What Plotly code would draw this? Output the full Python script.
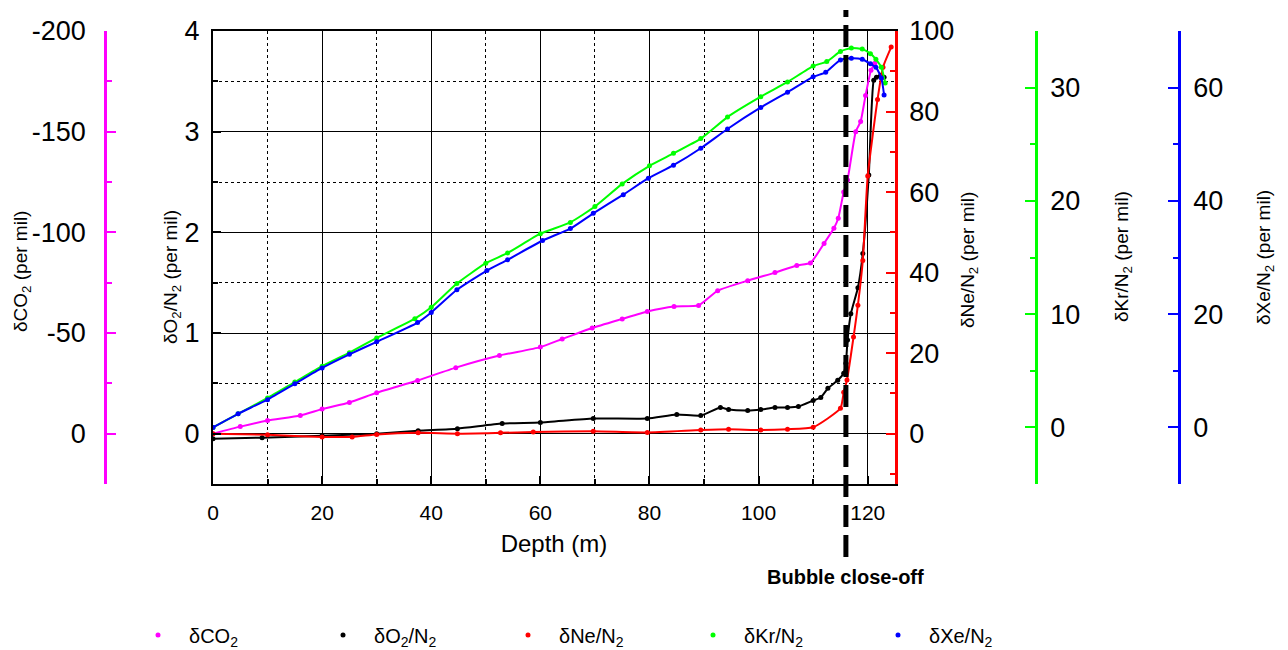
import plotly.graph_objects as go

W, H = 1288, 650

# ---------------- data ----------------
co2_depth = [0, 5, 10, 16, 20, 25, 30, 37.5, 44.5, 52.5, 60, 64, 69.5, 75, 79.6, 84.5,
             89, 92.5, 98, 103, 107, 109.5, 112, 113.8, 114.6, 115.6, 116.3, 117.8,
             118.7, 119.6, 120.6, 121.3]
co2_vals = [0, -3.5, -6.5, -9, -12.2, -15.5, -20.3, -26.4, -32.8, -38.8, -43, -47, -52.5,
            -57, -60.7, -63.2, -63.7, -71, -76, -80, -83.5, -84.8, -94.5, -102, -107, -120,
            -126, -150, -155, -168, -180.5, -184]

o2_depth = [0, 9, 20, 30, 37.6, 44.8, 53, 60, 69.7, 79.6, 85, 89.4, 93, 94.5, 98, 100.4,
            103, 105.3, 107.3, 110, 111.4, 112.7, 114.5, 115.6, 116, 116.3, 116.9, 118.2,
            119.1, 120.2, 121.1, 121.6, 122.4, 123]
o2_vals = [-0.05, -0.04, -0.02, 0.0, 0.03, 0.05, 0.1, 0.11, 0.15, 0.15, 0.19, 0.18, 0.26,
           0.24, 0.23, 0.24, 0.26, 0.26, 0.27, 0.33, 0.36, 0.45, 0.53, 0.6, 0.7, 0.93, 1.19,
           1.45, 1.79, 2.57, 3.51, 3.54, 3.56, 3.54]

ne_depth = [0, 10, 20, 25.5, 30, 37.6, 44.8, 52.7, 58.7, 69.7, 79.6, 89.4, 94.5, 100.4,
            105.3, 110, 115, 115.6, 116.2, 117.4, 118.2, 119.1, 120, 121.8, 122.8, 124.3]
ne_vals = [0, -0.3, -0.8, -0.8, -0.2, 0.2, 0, 0.2, 0.4, 0.6, 0.3, 0.9, 1.1, 0.9, 1.1, 1.6,
           6.3, 10.3, 13.3, 24, 31.9, 43, 64, 83, 91, 96]

kr_depth = [0, 4.6, 10, 15, 20, 25, 30, 37, 40, 44.7, 50, 54, 60, 65.5, 70, 75, 80, 84.4,
            89.4, 94.3, 100.4, 105.3, 110, 112.5, 115, 117, 119, 120.5, 121.5, 122.5, 123.2]
kr_vals = [0, 1.2, 2.6, 4.0, 5.4, 6.6, 7.9, 9.6, 10.6, 12.7, 14.5, 15.4, 17.1, 18.1, 19.5,
           21.5, 23.1, 24.2, 25.5, 27.4, 29.2, 30.5, 31.9, 32.3, 33.2, 33.5, 33.4, 33.0,
           32.5, 31.8, 30.4]

xe_depth = [0, 4.6, 10, 15, 20, 25, 30, 37.5, 40, 44.7, 50.2, 54, 60.4, 65.5, 69.7, 75.2,
            79.8, 84.4, 89.4, 94.3, 100.4, 105.3, 110, 112.3, 115, 117, 119, 120.5, 121.5,
            122.5, 123]
xe_vals = [0, 2.4, 4.9, 7.7, 10.5, 12.9, 15.1, 18.5, 20.3, 24.3, 27.7, 29.6, 33.0, 35.1,
           37.8, 41.1, 44.0, 46.3, 49.3, 52.7, 56.5, 59.2, 61.9, 62.7, 64.9, 65.2, 65.0,
           64.2, 63.6, 61.7, 58.7]

# CO2 axis tick labels use a plain hyphen as in the reference
co2_tick_vals = [0, -50, -100, -150, -200]
co2_tick_text = ["0", "-50", "-100", "-150", "-200"]

bubble_close_off_depth = 116
bubble_label = "Bubble close-off"

names = ["δCO<sub>2</sub>", "δO<sub>2</sub>/N<sub>2</sub>", "δNe/N<sub>2</sub>",
         "δKr/N<sub>2</sub>", "δXe/N<sub>2</sub>"]
axis_titles = ["δCO<sub>2</sub> (per mil)", "δO<sub>2</sub>/N<sub>2</sub> (per mil)",
               "δNe/N<sub>2</sub> (per mil)", "δKr/N<sub>2</sub> (per mil)",
               "δXe/N<sub>2</sub> (per mil)"]

MAG, BLK, RED, GRN, BLU = "#ff00ff", "#000000", "#ff0000", "#00ff00", "#0000ff"
FONT = "Liberation Sans, Arial, sans-serif"

series = [
    (names[0], co2_depth, co2_vals, "y2", MAG),
    (names[1], o2_depth, o2_vals, "y", BLK),
    (names[2], ne_depth, ne_vals, "y3", RED),
    (names[3], kr_depth, kr_vals, "y4", GRN),
    (names[4], xe_depth, xe_vals, "y5", BLU),
]

fig = go.Figure()
for name, xs, ys, ax, col in series:
    fig.add_trace(go.Scatter(x=xs, y=ys, yaxis=ax, mode="lines",
                             line=dict(color=col, width=2, shape="spline", smoothing=0.5),
                             showlegend=False, hoverinfo="skip"))
for name, xs, ys, ax, col in series:
    fig.add_trace(go.Scatter(x=xs, y=ys, yaxis=ax, mode="markers",
                             marker=dict(color=col, size=5), name=name))

px = lambda p: p / W
py = lambda p: 1 - p / H

x0, x1 = px(213), px(895)
y0, y1 = py(484), py(31)

tick_font = dict(family=FONT, size=27, color="black")

fig.update_layout(
    width=W, height=H,
    margin=dict(l=0, r=0, t=0, b=0, autoexpand=False),
    paper_bgcolor="white", plot_bgcolor="white",
    font=dict(family=FONT, color="black"),
    xaxis=dict(domain=[x0, x1], range=[0, 125], tick0=0, dtick=20,
               ticks="inside", ticklen=8, tickwidth=1.5, tickcolor="black",
               showline=True, linecolor="black", linewidth=2, mirror=True,
               showgrid=True, gridcolor="black", gridwidth=1, zeroline=False,
               minor=dict(dtick=10, ticks="inside", ticklen=5, tickcolor="black",
                          showgrid=True, gridcolor="black", griddash="dot", gridwidth=1),
               tickfont=dict(family=FONT, size=21, color="black"), ticklabelstandoff=9,
               title=dict(text="Depth (m)", font=dict(family=FONT, size=24), standoff=12),
               automargin=False),
    yaxis=dict(domain=[y0, y1], range=[-0.5, 4], tick0=0, dtick=1,
               ticks="inside", ticklen=8, tickwidth=1.5, tickcolor="black",
               showline=True, linecolor="black", linewidth=2,
               showgrid=True, gridcolor="black", gridwidth=1, zeroline=False,
               minor=dict(dtick=0.5, ticks="inside", ticklen=5, tickcolor="black",
                          showgrid=True, gridcolor="black", griddash="dot", gridwidth=1),
               tickfont=tick_font, ticklabelstandoff=6, automargin=False),
    yaxis2=dict(overlaying="y", anchor="free", position=px(105), side="left",
                range=[25, -200], tickmode="array", tickvals=co2_tick_vals,
                ticktext=co2_tick_text,
                ticks="inside", ticklen=9, tickwidth=2, tickcolor=MAG,
                minor=dict(tickmode="linear", tick0=0, dtick=25, ticks="inside", ticklen=5,
                           tickcolor=MAG, tickwidth=2),
                showline=True, linecolor=MAG, linewidth=2.5, showgrid=False, zeroline=False,
                tickfont=tick_font, ticklabelstandoff=13, automargin=False),
    yaxis3=dict(overlaying="y", anchor="x", side="right",
                range=[-12.5, 100], tick0=0, dtick=20,
                ticks="inside", ticklen=9, tickwidth=2, tickcolor=RED,
                minor=dict(dtick=10, ticks="inside", ticklen=5, tickcolor=RED, tickwidth=2),
                showline=True, linecolor=RED, linewidth=2.5, showgrid=False, zeroline=False,
                tickfont=tick_font, ticklabelstandoff=6, automargin=False),
    yaxis4=dict(overlaying="y", anchor="free", position=px(1036), side="right",
                range=[-5, 35], tick0=0, dtick=10,
                ticks="inside", ticklen=10, tickwidth=2, tickcolor=GRN,
                minor=dict(dtick=5, ticks="inside", ticklen=5, tickcolor=GRN, tickwidth=2),
                showline=True, linecolor=GRN, linewidth=2.5, showgrid=False, zeroline=False,
                tickfont=tick_font, ticklabelstandoff=7, automargin=False),
    yaxis5=dict(overlaying="y", anchor="free", position=px(1179), side="right",
                range=[-10, 70], tick0=0, dtick=20,
                ticks="inside", ticklen=10, tickwidth=2, tickcolor=BLU,
                minor=dict(dtick=10, ticks="inside", ticklen=5, tickcolor=BLU, tickwidth=2),
                showline=True, linecolor=BLU, linewidth=2.5, showgrid=False, zeroline=False,
                tickfont=tick_font, ticklabelstandoff=7, automargin=False),
    legend=dict(orientation="h", x=px(127), xanchor="left", y=py(635), yanchor="middle",
                font=dict(family=FONT, size=20, color="black"),
                entrywidth=118, entrywidthmode="pixels", itemwidth=52,
                bgcolor="rgba(0,0,0,0)"),
    showlegend=True,
)

# bubble close-off marker
fig.add_shape(type="line", xref="x", yref="paper",
              x0=bubble_close_off_depth, x1=bubble_close_off_depth,
              y0=py(557), y1=py(10),
              line=dict(color="black", width=5, dash="22px,8px"))
fig.add_annotation(x=bubble_close_off_depth, xref="x", y=py(577), yref="paper",
                   text="<b>" + bubble_label + "</b>", showarrow=False,
                   xanchor="center", yanchor="middle",
                   font=dict(family=FONT, size=20, color="black"))

# y-axis titles
title_pos = [(22, 272), (172, 277), (969, 260), (1123, 257), (1265, 258)]
for t, (tx, ty) in zip(axis_titles, title_pos):
    fig.add_annotation(x=px(tx), y=py(ty), xref="paper", yref="paper", text=t,
                       textangle=-90, showarrow=False, xanchor="center", yanchor="middle",
                       font=dict(family=FONT, size=19, color="black"))

fig.write_html("out.html")
